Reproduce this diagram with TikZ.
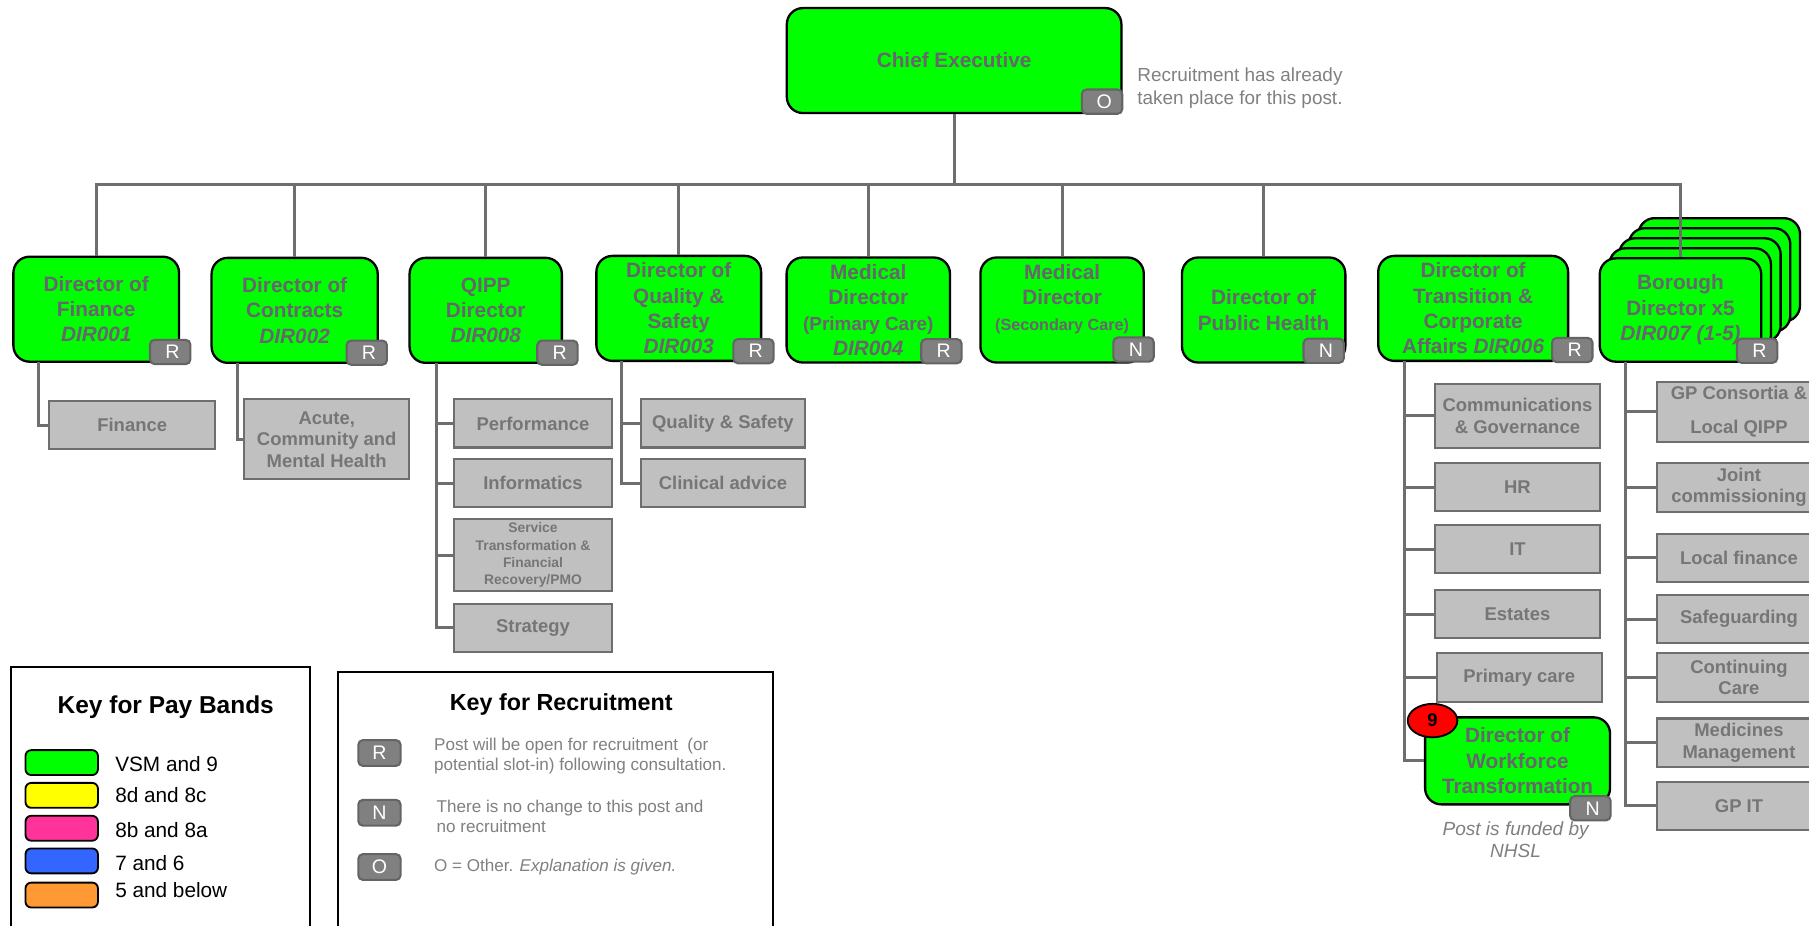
\documentclass[tikz,border=0pt]{standalone}
\usepackage{fontspec}
\setmainfont{Liberation Sans}
\usetikzlibrary{shapes.geometric}
\definecolor{vgreen}{RGB}{0,255,0}
\definecolor{gtext}{RGB}{105,100,110}
\definecolor{stext}{RGB}{118,118,118}
\definecolor{sfill}{RGB}{192,192,192}
\definecolor{sline}{RGB}{110,110,110}
\definecolor{cline}{RGB}{110,110,110}
\definecolor{bfill}{RGB}{128,128,128}
\definecolor{bline}{RGB}{100,100,100}
\definecolor{ntext}{RGB}{128,128,128}
\definecolor{kyellow}{RGB}{255,255,0}
\definecolor{kpink}{RGB}{255,51,153}
\definecolor{kblue}{RGB}{51,102,255}
\definecolor{korange}{RGB}{255,153,51}
\begin{document}
\begin{tikzpicture}[x=0.5pt,y=-0.5pt,
 greenbox/.style={draw=black, line width=1pt, fill=vgreen, rounded corners=7pt, align=center, text=gtext, font=\bfseries\fontsize{9}{11}\selectfont, inner sep=0pt, minimum height=45.5pt},
 subbox/.style={draw=sline, line width=0.9pt, fill=sfill, align=center, text=stext, font=\bfseries\fontsize{8}{9.3}\selectfont, inner sep=0pt, minimum width=71.5pt, minimum height=20.9pt},
 badge/.style={draw=bline, line width=0.9pt, fill=bfill, rounded corners=2pt, text=white, font=\fontsize{8.5}{8.5}\selectfont, inner sep=0pt, minimum width=17.5pt, minimum height=10.5pt, text depth=-0.4pt, xshift=0pt},
 conn/.style={draw=cline, line width=1.3pt},
 swatch/.style={draw=black, line width=0.8pt, rounded corners=2.5pt, minimum width=31.4pt, minimum height=10.8pt, inner sep=0pt},
 keylabel/.style={anchor=west, inner sep=0pt, font=\fontsize{9}{11}\selectfont, text=black},
 note/.style={anchor=west, inner sep=0pt, align=left, text=ntext, font=\fontsize{7.4}{8.55}\selectfont},
 keybox/.style={draw=black, line width=1pt, inner sep=0pt},
]
\path[use as bounding box, clip] (0,0) rectangle (1568,802);
\fill[white] (0,0) rectangle (1568,802);

% Borough back cards
\foreach \k in {4,3,2,1}
  \node[greenbox, minimum width=70pt, minimum height=44.8pt] (bor\k) at ({1456.6+8.4*\k},{268.7-8.7*\k}) {};

% top
\node[greenbox, minimum width=145pt] (ce) at (827,52.5) {Chief Executive};
\node[note, font=\fontsize{8.2}{9.7}\selectfont] (cenote) at (985.5,76.5) {Recruitment has already\\taken place for this post.};

% level 2
\node[greenbox, minimum width=71.8pt] (fin) at (83.4,268) {Director of\\Finance\\\textit{DIR001}};
\node[greenbox, minimum width=72pt] (con) at (255.4,269) {Director of\\Contracts\\\textit{DIR002}};
\node[greenbox, minimum width=66pt] (qipp) at (421,269) {QIPP\\Director\\\textit{DIR008}};
\node[greenbox, minimum width=71.4pt] (qual) at (588.3,267.3) {Director of\\Quality \&\\Safety\\\textit{DIR003}};
\node[greenbox, minimum width=70.8pt] (medp) at (752.6,268.7) {Medical\\Director\\{\fontsize{8.2}{11}\selectfont(Primary Care)}\\\textit{DIR004}};
\node[greenbox, minimum width=70.8pt] (meds) at (920.6,268.7) {Medical\\Director\\{\fontsize{7}{11}\selectfont(Secondary Care)}\\\mbox{}};
\node[greenbox, minimum width=70.8pt] (ph) at (1095.3,268.7) {Director of\\Public Health};
\node[greenbox, minimum width=82.3pt] (tra) at (1276.9,267.3) {Director of\\Transition \&\\Corporate\\Affairs \textit{DIR006}};
\node[greenbox, minimum width=70pt, minimum height=44.8pt] (bor) at (1456.6,268.7) {Borough\\Director x5\\\textit{DIR007 (1-5)}};

% sub boxes
\node[subbox, minimum width=71.8pt] (finsub) at (114.6,368.5) {Finance};
\node[subbox, minimum width=71.65pt, minimum height=34.65pt] (acute) at (283.2,380.8) {Acute,\\Community and\\Mental Health};
\node[subbox, minimum width=68.2pt] (perf) at (462,367) {Performance};
\node[subbox, minimum width=68.2pt] (info) at (462,418.9) {Informatics};
\node[subbox, minimum width=68.2pt, minimum height=31.1pt, font=\bfseries\fontsize{6}{7.5}\selectfont] (serv) at (462,481.2) {Service\\Transformation \&\\Financial\\Recovery/PMO};
\node[subbox, minimum width=68.2pt] (strat) at (462,544.2) {Strategy};
\node[subbox, minimum width=71.25pt] (qs) at (626.6,367) {Quality \& Safety};
\node[subbox, minimum width=71.25pt] (clin) at (626.6,418.9) {Clinical advice};

\node[subbox, minimum height=27.65pt] (comm) at (1315.3,360.5) {Communications\\\& Governance};
\node[subbox] (hr) at (1315.3,422.3) {HR};
\node[subbox] (it) at (1315.3,476) {IT};
\node[subbox] (est) at (1315.3,532.3) {Estates};
\node[subbox] (pc) at (1316.8,587.3) {Primary care};
\node[greenbox, minimum width=80.15pt, minimum height=37.7pt] (wf) at (1315.4,659.5) {Director of\\Workforce\\Transformation};

\node[subbox, minimum width=70.75pt, minimum height=26pt, font=\bfseries\fontsize{8}{14.5}\selectfont] (gpc) at (1507.3,356.8) {GP Consortia \&\\Local QIPP};
\node[subbox, minimum width=70.75pt, minimum height=21.25pt] (joint) at (1507.3,422.3) {Joint\\commissioning};
\node[subbox, minimum width=70.75pt] (lf) at (1507.3,483.6) {Local finance};
\node[subbox, minimum width=70.75pt] (safe) at (1507.3,536.7) {Safeguarding};
\node[subbox, minimum width=70.75pt] (cont) at (1507.3,587.3) {Continuing\\Care};
\node[subbox, minimum width=70.75pt] (med) at (1507.3,643.7) {Medicines\\Management};
\node[subbox, minimum width=70.75pt] (gpit) at (1507.3,698.6) {GP IT};

% connectors
\coordinate (busY) at (0,159.8);
\draw[conn] (ce.south) -- (ce.south |- busY);
\draw[conn] (fin.north) -- (fin.north |- busY) -- (bor.north |- busY) -- (bor.north);
\foreach \n in {con,qipp,qual,medp,meds,ph}
  \draw[conn] (\n.north) -- (\n.north |- busY);

\coordinate (finT) at (33.5,314);
\draw[conn] (finT) |- (finsub.west);
\coordinate (conT) at (205.5,314.4);
\draw[conn] (conT) |- (acute.west);
\coordinate (qippT) at (378.5,314.4);
\draw[conn] (qippT) |- (strat.west);
\foreach \n in {perf,info,serv}
  \draw[conn] (qippT |- \n.west) -- (\n.west);
\coordinate (qualT) at (539,313);
\draw[conn] (qualT) |- (clin.west);
\draw[conn] (qualT |- qs.west) -- (qs.west);
\coordinate (traT) at (1217.8,313);
\draw[conn] (traT) |- (wf.west);
\foreach \n in {comm,hr,it,est,pc}
  \draw[conn] (traT |- \n.west) -- (\n.west);
\coordinate (borT) at (1408.5,313.5);
\draw[conn] (borT) |- (gpit.west);
\foreach \n in {gpc,joint,lf,safe,cont,med}
  \draw[conn] (borT |- \n.west) -- (\n.west);

% badges
\node[badge] (bce) at (955.2,88.1) {\hspace{2pt}O};
\node[badge] (bfin) at (147.5,305.1) {\hspace{2pt}R};
\node[badge] (bcon) at (317.9,305.7) {\hspace{2pt}R};
\node[badge] (bqipp) at (483.2,305.7) {\hspace{2pt}R};
\node[badge] (bqual) at (653.1,304.4) {\hspace{2pt}R};
\node[badge] (bmedp) at (816,304.4) {\hspace{2pt}R};
\node[badge] (bmeds) at (982.5,303) {\hspace{2pt}N};
\node[badge] (bph) at (1147.3,304) {\hspace{2pt}N};
\node[badge] (btra) at (1362.8,303.4) {\hspace{2pt}R};
\node[badge] (bbor) at (1523,304) {\hspace{2pt}R};
\node[badge] (bwf) at (1378.5,700.6) {\hspace{2pt}N};

\node[ellipse, draw=black, line width=0.8pt, fill=red, minimum width=21.5pt, minimum height=14.5pt, inner sep=0pt, font=\bfseries\fontsize{8}{8}\selectfont] (nine) at (1241.7,624.6) {9};
\node[align=center, text=ntext, font=\itshape\fontsize{8.25}{9.8}\selectfont, inner sep=0pt] (fund) at (1313.7,727.8) {Post is funded by\\NHSL};

% key for pay bands
\node[keybox, minimum width=129.6pt, minimum height=126pt] (paykey) at (139.3,703.95) {};
\node[anchor=base, inner sep=0pt, font=\bfseries\fontsize{10.6}{12}\selectfont] (paytitle) at (143.7,618.6) {Key for Pay Bands};
\node[swatch, fill=vgreen] (sw1) at (53.5,661) {};
\node[swatch, fill=kyellow] (sw2) at (53.5,689.4) {};
\node[swatch, fill=kpink] (sw3) at (53.5,717.9) {};
\node[swatch, fill=kblue] (sw4) at (53.5,746.2) {};
\node[swatch, fill=korange] (sw5) at (53.5,775.8) {};
\node[keylabel] (kl1) at (99.5,662.5) {VSM and 9};
\node[keylabel] (kl2) at (99.5,689) {8d and 8c};
\node[keylabel] (kl3) at (99.5,719.4) {8b and 8a};
\node[keylabel] (kl4) at (99.5,748.3) {7 and 6};
\node[keylabel] (kl5) at (99.5,771.4) {5 and below};

% key for recruitment
\node[keybox, minimum width=188.6pt, minimum height=123.9pt] (reckey) at (481.4,706.1) {};
\node[anchor=base, inner sep=0pt, font=\bfseries\fontsize{10.1}{12}\selectfont] (rectitle) at (486.5,616.2) {Key for Recruitment};
\node[badge, minimum width=18.3pt, minimum height=11.2pt] (kR) at (328.9,652.7) {R};
\node[badge, minimum width=18.3pt, minimum height=11.2pt] (kN) at (328.9,704.5) {N};
\node[badge, minimum width=18.3pt, minimum height=11.2pt] (kO) at (328.9,751.5) {O};
\node[note] (nR) at (375.9,655.2) {Post will be open for recruitment\ \ (or\\potential slot-in) following consultation.};
\node[note] (nN) at (378.1,707.9) {There is no change to this post and\\no recruitment};
\node[note] (nO) at (375.9,751.2) {O = Other. \textit{Explanation is given.}};
\end{tikzpicture}
\end{document}
